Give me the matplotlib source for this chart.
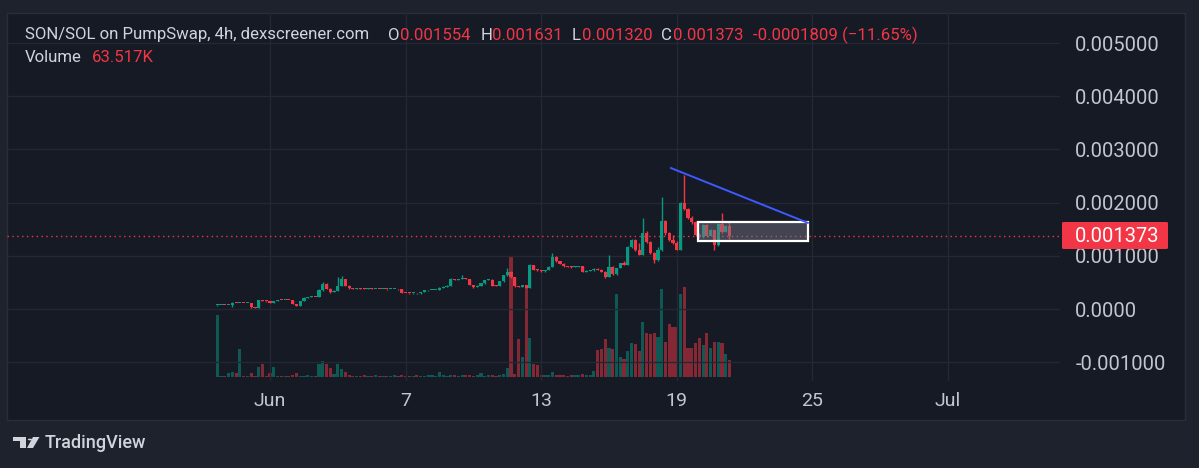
"""
SON/SOL 4h chart (TradingView / dexscreener style) rebuilt with matplotlib.
"""
import numpy as np
import pandas as pd
import matplotlib
matplotlib.use("Agg")
import matplotlib.pyplot as plt
import matplotlib.dates as mdates
import matplotlib.patches as mpatches

# ─────────────────────────────────────────────────────────────────────────────
# Data (prices in micro-SOL, volume in K)
# ─────────────────────────────────────────────────────────────────────────────
FIRST_BAR = "2025-05-29 16:00"
FIRST_OPEN = 70

close = [
    75, 80, 72, 80, 118, 110, 112, 108, 110, 30,
    25, 165, 150, 145, 115, 150, 170, 168, 172, 170,
    95, 60, 150, 215, 225, 230, 225, 350, 470, 380,
    320, 340, 430, 560, 440, 390, 385, 395, 385, 380,
    385, 375, 380, 372, 375, 370, 371, 372, 368, 305, 300,
    295, 298, 292, 320, 350, 355, 357, 360, 400, 420,
    440, 565, 550, 560, 570, 565, 450, 410, 440, 480,
    545, 545, 440, 430, 520, 630, 700, 600, 430, 420,
    450, 400, 830, 740, 730, 710, 730, 790, 980, 900,
    850, 800, 795, 790, 792, 800, 700, 720, 735, 760, 740, 700,
    600, 790, 650, 770, 860, 830, 1165, 1300, 1110, 1020,
    1430, 1260, 1050, 920, 1100, 1650, 1420, 1300, 1250, 1110,
    2000, 1880, 1720, 1640, 1390, 1350, 1580, 1380, 1480, 1200,
    1600, 1450, 1554, 1373,
]

high = [
    80, 82, 82, 84, 125, 120, 115, 114, 112, 112,
    35, 175, 168, 155, 150, 160, 175, 174, 176, 175,
    172, 100, 160, 222, 232, 236, 234, 370, 510, 480,
    390, 350, 600, 620, 570, 445, 395, 400, 398, 390,
    390, 388, 384, 383, 378, 378, 375, 376, 375, 372, 310,
    304, 302, 301, 326, 356, 360, 362, 365, 408, 426,
    446, 575, 572, 566, 630, 580, 570, 455, 446, 488,
    552, 555, 570, 446, 528, 640, 780, 710, 610, 440,
    460, 455, 850, 835, 745, 735, 738, 800, 1050, 990,
    910, 860, 808, 805, 800, 812, 805, 730, 742, 770, 775, 748,
    710, 1015, 800, 780, 870, 900, 1180, 1320, 1310, 1250,
    1710, 1460, 1280, 1070, 1160, 2100, 1680, 1440, 1400, 1270,
    2020, 2520, 1900, 1740, 1660, 1420, 1600, 1590, 1500, 1490,
    1620, 1800, 1570, 1631,
]

low = [
    65, 74, 70, 70, 45, 108, 105, 106, 105, 25,
    20, 22, 145, 140, 110, 112, 148, 165, 165, 166,
    90, 55, 58, 145, 210, 220, 220, 220, 340, 370,
    310, 315, 335, 425, 430, 385, 380, 380, 380, 375,
    376, 370, 372, 368, 369, 366, 367, 367, 364, 300, 296,
    290, 291, 288, 289, 316, 346, 350, 352, 356, 396,
    415, 436, 545, 545, 555, 560, 445, 400, 405, 436,
    476, 538, 435, 424, 426, 515, 625, 590, 415, 410,
    415, 390, 395, 730, 720, 700, 705, 725, 785, 890,
    840, 790, 785, 780, 785, 785, 690, 690, 715, 712, 730, 690,
    590, 595, 640, 645, 765, 820, 825, 1150, 1090, 1010,
    1010, 1240, 1030, 860, 910, 1090, 1400, 1280, 1230, 1100,
    1100, 1860, 1700, 1600, 1370, 1330, 1340, 1360, 1370, 1100,
    1190, 1430, 1440, 1320,
]

volume_k = [
    232, 4, 3, 15, 19, 15, 105, 3, 3, 15,
    3, 37, 49, 3, 15, 37, 3, 4, 3, 4,
    6, 15, 4, 3, 6, 4, 3, 49, 60, 49,
    34, 11, 49, 30, 19, 6, 4, 5, 4, 6,
    4, 5, 6, 4, 5, 4, 5, 6, 5, 8, 5,
    4, 5, 6, 4, 5, 6, 8, 5, 19, 6,
    5, 8, 6, 5, 6, 7, 8, 5, 6, 15,
    5, 6, 8, 5, 6, 11, 34, 449, 11, 142,
    75, 333, 146, 49, 45, 8, 7, 8, 19, 6,
    8, 6, 5, 7, 6, 8, 11, 6, 7, 22, 101, 105,
    142, 108, 105, 310, 75, 67, 97, 127, 123, 97,
    206, 165, 161, 165, 150, 329, 131, 198, 187, 187,
    310, 337, 108, 108, 127, 146, 120, 165, 108, 131,
    131, 127, 86, 63.517,
]

LAST_PRICE = 0.001373
price_ticks = [-0.001, 0.0, 0.001, 0.002, 0.003, 0.004, 0.005]
price_tick_labels = ["-0.001000", "0.0000", "0.001000", "0.002000",
                     "0.003000", "0.004000", "0.005000"]
date_ticks = ["2025-06-01", "2025-06-07", "2025-06-13", "2025-06-19",
              "2025-06-25", "2025-07-01"]
date_tick_labels = ["Jun", "7", "13", "19", "25", "Jul"]

# drawings on the chart
trend_line = (["2025-06-18 17:50", "2025-06-24 19:10"], [0.00265, 0.00162])
box_range = (["2025-06-19 22:30", "2025-06-24 19:10"], [0.00128, 0.00163])

HEADER = "SON/SOL on PumpSwap, 4h, dexscreener.com"
OHLC_TXT = [("O", "0.001554", 388, 400), ("H", "0.001631", 481, 492),
            ("L", "0.001320", 572, 582), ("C", "0.001373", 661, 673)]
CHANGE_TXT = "-0.0001809 (\u221211.65%)"

# ─────────────────────────────────────────────────────────────────────────────
# Style
# ─────────────────────────────────────────────────────────────────────────────
W, H = 1199, 468
OUTER_BG = "#1e222d"
PANEL_BG = "#161a25"
GRID = "#242834"
TEXT = "#d1d4dc"
AXIS_TXT = "#c3c6ce"
RED = "#f23645"
GREEN = "#089981"
UP_VOL = (8 / 255, 153 / 255, 129 / 255, 0.5)
DN_VOL = (242 / 255, 54 / 255, 69 / 255, 0.5)
plt.rcParams["font.family"] = ["Roboto", "DejaVu Sans"]

# pixel layout of the reference
PLOT_L, PLOT_R, PLOT_T, PLOT_B = 7, 1060, 13, 381
Y_MIN, Y_MAX = -0.001353, 0.005564
VOL_MIN, VOL_MAX = -15, 1361
JUN1 = mdates.date2num(pd.Timestamp("2025-06-01"))
X_MIN, X_MAX = JUN1 - 11.64, JUN1 + 34.96


def fx(px):
    return px / W


def fy(py):
    return 1 - py / H


# ─────────────────────────────────────────────────────────────────────────────
# Build OHLC arrays
# ─────────────────────────────────────────────────────────────────────────────
times = pd.date_range(FIRST_BAR, periods=len(close), freq="4h")
c = np.array(close, dtype=float) * 1e-6
o = np.concatenate([[FIRST_OPEN], close[:-1]]).astype(float) * 1e-6
h = np.array(high, dtype=float) * 1e-6
l = np.array(low, dtype=float) * 1e-6
v = np.array(volume_k, dtype=float)
t = mdates.date2num(times)
up = c >= o

fig = plt.figure(figsize=(W / 100, H / 100), dpi=100)
fig.patch.set_facecolor(OUTER_BG)

# chart panel
fig.add_artist(mpatches.Rectangle((fx(7), fy(420)), fx(1185) - fx(7), fy(13) - fy(420),
                                  transform=fig.transFigure, facecolor=PANEL_BG,
                                  edgecolor="#2a2e39", lw=1, zorder=-5))

rect = [fx(PLOT_L), fy(PLOT_B), fx(PLOT_R) - fx(PLOT_L), fy(PLOT_T) - fy(PLOT_B)]
ax_vol = fig.add_axes(rect, zorder=0)
ax = fig.add_axes(rect, zorder=1, sharex=ax_vol)
for a in (ax_vol, ax):
    a.set_facecolor("none")
    for s in a.spines.values():
        s.set_visible(False)

# ── volume ──────────────────────────────────────────────────────────────────
bar_w = 0.14
ax_vol.bar(t, v, width=bar_w, color=[UP_VOL if u else DN_VOL for u in up], lw=0)
ax_vol.set_ylim(VOL_MIN, VOL_MAX)
ax_vol.set_yticks([])
ax_vol.tick_params(axis="x", length=0, labelbottom=False)

# ── candles ─────────────────────────────────────────────────────────────────
cols = np.where(up, GREEN, RED)
ax.vlines(t, l, h, colors=cols, lw=1, zorder=3)
body_lo = np.minimum(o, c)
body_h = np.maximum(np.abs(c - o), 1.6e-5)
ax.bar(t, body_h, bottom=body_lo, width=bar_w, color=cols, lw=0, zorder=4)

# ── drawings ────────────────────────────────────────────────────────────────
tl_x = mdates.date2num(pd.to_datetime(trend_line[0]))
ax.plot(tl_x, trend_line[1], color="#3d5afe", lw=1.4, zorder=6)
bx = mdates.date2num(pd.to_datetime(box_range[0]))
ax.add_patch(mpatches.Rectangle((bx[0], box_range[1][0]), bx[1] - bx[0],
                                box_range[1][1] - box_range[1][0],
                                facecolor=(0.47, 0.48, 0.53, 0.45),
                                edgecolor="white", lw=1.6, zorder=5))

# last price line
ax.axhline(LAST_PRICE, color=RED, lw=1, ls=(0, (1, 2.5)), zorder=2)

# ── axes / grid ─────────────────────────────────────────────────────────────
ax.set_xlim(X_MIN, X_MAX)
ax.set_ylim(Y_MIN, Y_MAX)
ax.yaxis.tick_right()
ax.set_yticks(price_ticks)
ax.set_yticklabels(price_tick_labels)
ax.set_xticks(mdates.date2num(pd.to_datetime(date_ticks)))
ax.set_xticklabels(date_tick_labels)
ax.tick_params(axis="y", length=0, pad=11, labelsize=14.5, labelcolor=AXIS_TXT)
ax.tick_params(axis="x", length=0, pad=8, labelsize=14, labelcolor=AXIS_TXT)
ax.grid(True, color=GRID, lw=1, zorder=0)
ax.set_axisbelow(True)

# last price label on the price scale
fig.add_artist(mpatches.FancyBboxPatch((fx(1062), fy(249)), fx(1168) - fx(1062), fy(222) - fy(249),
                                       boxstyle="round,pad=0,rounding_size=0.002",
                                       transform=fig.transFigure, facecolor=RED,
                                       edgecolor="none", zorder=5))
fig.text(fx(1075), fy(236), f"{LAST_PRICE:.6f}", color="white", fontsize=14.5,
         ha="left", va="center", zorder=6)

# ── header ──────────────────────────────────────────────────────────────────
HDR_FS = 12.1
fig.text(fx(25), fy(35), HEADER, color=TEXT, fontsize=HDR_FS, ha="left", va="center")
for letter, val, lx, vx in OHLC_TXT:
    fig.text(fx(lx), fy(35), letter, color=TEXT, fontsize=HDR_FS, ha="left", va="center")
    fig.text(fx(vx), fy(35), val, color=RED, fontsize=HDR_FS, ha="left", va="center")
fig.text(fx(753), fy(35), CHANGE_TXT, color=RED, fontsize=HDR_FS, ha="left", va="center")
fig.text(fx(25), fy(58), "Volume", color=TEXT, fontsize=HDR_FS, ha="left", va="center")
fig.text(fx(92), fy(58), f"{volume_k[-1]:.3f}K", color=RED, fontsize=HDR_FS,
         ha="left", va="center")

# ── TradingView logo ────────────────────────────────────────────────────────
logo = dict(transform=fig.transFigure, facecolor=TEXT, edgecolor="none")
fig.add_artist(mpatches.Polygon([(fx(13), fy(437)), (fx(26), fy(437)), (fx(26), fy(448)),
                                 (fx(20), fy(448)), (fx(20), fy(441)), (fx(13), fy(441))], **logo))
fig.add_artist(mpatches.Circle((fx(30), fy(439.5)), 2.2 / W, **logo))
fig.add_artist(mpatches.Polygon([(fx(33), fy(437)), (fx(39.5), fy(437)), (fx(33), fy(448)),
                                 (fx(27), fy(448))], **logo))
fig.text(fx(45), fy(443), "TradingView", color=TEXT, fontsize=13, ha="left",
         va="center", fontweight="medium")

fig.savefig("out.png", dpi=100, facecolor=OUTER_BG)
